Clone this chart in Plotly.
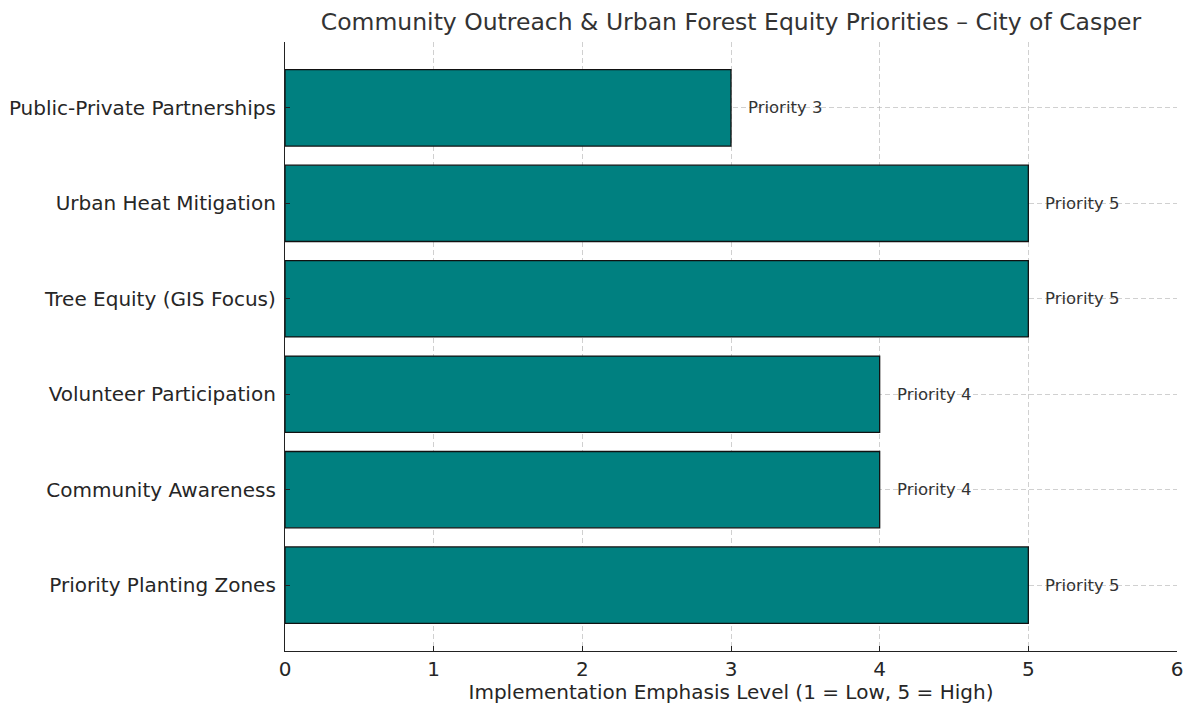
import plotly.graph_objects as go

# Program areas, listed bottom to top
categories = [
    "Priority Planting Zones",
    "Community Awareness",
    "Volunteer Participation",
    "Tree Equity (GIS Focus)",
    "Urban Heat Mitigation",
    "Public-Private Partnerships",
]
emphasis = [5, 4, 4, 5, 5, 3]
x_ticks = [0, 1, 2, 3, 4, 5, 6]

FONT = "DejaVu Sans"
TEXT = "#262626"
GRID = "rgba(176,176,176,0.6)"

fig = go.Figure(
    go.Bar(
        x=emphasis,
        y=categories,
        orientation="h",
        width=0.8,
        marker=dict(color="#008080", line=dict(color="#111111", width=1.3)),
        hoverinfo="x+y",
    )
)

# Value labels just past the end of each bar
for cat, val in zip(categories, emphasis):
    fig.add_annotation(
        x=val + 0.1,
        y=cat,
        text=f"Priority {val}",
        showarrow=False,
        xanchor="left",
        yanchor="middle",
        font=dict(family=FONT, size=16.5, color="#333333"),
    )

fig.update_layout(
    width=1186,
    height=704,
    margin=dict(l=285, r=9, t=42, b=53, autoexpand=False),
    paper_bgcolor="white",
    plot_bgcolor="white",
    showlegend=False,
    font=dict(family=FONT, color=TEXT),
    title=dict(
        text="Community Outreach & Urban Forest Equity Priorities – City of Casper",
        x=0.5,
        xref="paper",
        xanchor="center",
        y=1 - 22 / 704,
        yref="container",
        yanchor="middle",
        font=dict(family=FONT, size=23.5, color="#333333"),
    ),
    xaxis=dict(
        range=[0, 6],
        tickvals=x_ticks,
        ticktext=[str(t) for t in x_ticks],
        ticks="inside",
        ticklen=5,
        tickwidth=1.2,
        tickcolor="#222222",
        tickfont=dict(size=20, color=TEXT),
        showline=True,
        linecolor="#222222",
        linewidth=1.3,
        mirror=False,
        showgrid=True,
        gridcolor=GRID,
        griddash="5px,3px",
        gridwidth=1,
        zeroline=False,
        automargin=False,
        layer="above traces",
        title=dict(
            text="Implementation Emphasis Level (1 = Low, 5 = High)",
            font=dict(size=20, color=TEXT),
            standoff=6,
        ),
    ),
    yaxis=dict(
        type="category",
        categoryorder="array",
        categoryarray=categories,
        range=[-0.69, 5.69],
        ticks="inside",
        ticklen=5,
        tickwidth=1.2,
        tickcolor="#222222",
        tickfont=dict(size=20, color=TEXT),
        ticklabelstandoff=4,
        showline=True,
        linecolor="#222222",
        linewidth=1.3,
        mirror=False,
        showgrid=True,
        gridcolor=GRID,
        griddash="5px,3px",
        gridwidth=1,
        zeroline=False,
        automargin=False,
        layer="above traces",
    ),
)

fig.write_html("out.html")
